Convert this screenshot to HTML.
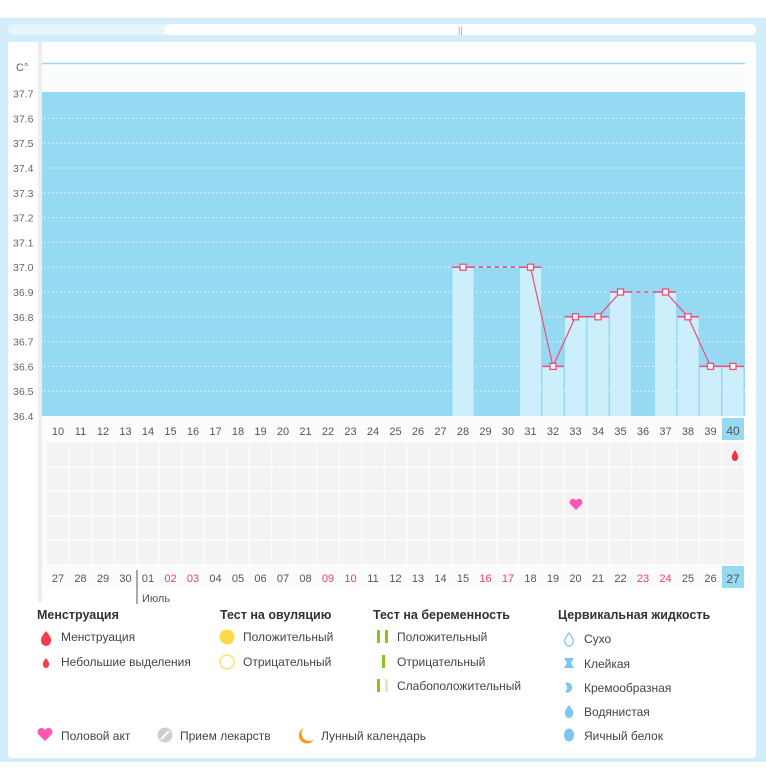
<!DOCTYPE html>
<html><head><meta charset="utf-8">
<style>
body{margin:0;width:766px;height:770px;overflow:hidden;background:#fff;font-family:"Liberation Sans","DejaVu Sans",sans-serif}
svg text{font-family:"Liberation Sans","DejaVu Sans",sans-serif}
</style></head><body>
<svg id="s" width="766" height="770" xmlns="http://www.w3.org/2000/svg">
<rect x="0" y="18" width="766" height="744" fill="#d3eefa"/>
<rect x="8" y="24" width="160" height="11" rx="5" fill="#e4f5fc"/>
<rect x="164" y="24" width="592" height="11" rx="5" fill="#fff"/>
<text x="458" y="33" font-size="9" fill="#999">||</text>
<rect x="8" y="42" width="748" height="716" rx="4" fill="#fff"/>
<g id="g"></g>
</svg>
<script>
const g=document.getElementById('g');let h='';
const cx=n=>58+(n-10)*22.5;
const ty=t=>416-(t-36.4)*248;
h+='<rect x="40" y="63" width="705" height="29" fill="#fafdfb"/>';
h+='<line x1="40" y1="63.5" x2="745" y2="63.5" stroke="#9fd8f0" stroke-width="1.5"/>';
h+='<rect x="40" y="92" width="705" height="324" fill="#95d9f2"/>';
for(let i=1;i<13;i++){let y=ty(37.7-i*0.1);h+=`<line x1="40" y1="${y}" x2="745" y2="${y}" stroke="#fff" stroke-width="1" stroke-dasharray="1.5,2.5" opacity=".8"/>`;}
const d={28:37.0,31:37.0,32:36.6,33:36.8,34:36.8,35:36.9,37:36.9,38:36.8,39:36.6,40:36.6};
for(const k in d){let x=cx(+k);let y=ty(d[k]);h+=`<rect x="${x-10.5}" y="${y}" width="21" height="${416-y}" fill="#cdeefb"/>`;h+=`<line x1="${x-11}" y1="${y}" x2="${x+11}" y2="${y}" stroke="#ee4f7a" stroke-width="1.5"/>`;}
const segs=[[28,31,1],[31,32],[32,33],[33,34],[34,35],[35,37,1],[37,38],[38,39],[39,40]];
for(const s of segs){h+=`<line x1="${cx(s[0])}" y1="${ty(d[s[0]])}" x2="${cx(s[1])}" y2="${ty(d[s[1]])}" stroke="#ee4f7a" stroke-width="${s[2]?1.6:1.2}" ${s[2]?'stroke-dasharray="4,4"':''}/>`;}
for(const k in d){let x=cx(+k),y=ty(d[k]);h+=`<rect x="${x-3}" y="${y-3}" width="6" height="6" fill="#fff" stroke="#ee4f7a" stroke-width="1.3"/>`;}
h+='<rect x="8" y="42" width="32" height="560" fill="#fff"/><rect x="38" y="42" width="4" height="560" fill="#eee"/>';
h+='<text x="16" y="71" font-size="11" fill="#666">C°</text>';
for(let i=0;i<=13;i++){let t=(37.7-i*0.1).toFixed(1);h+=`<text x="13" y="${ty(+t)+4}" font-size="10.5" fill="#666">${t}</text>`;}
h+='<rect x="42" y="416" width="703" height="172" fill="#fcfcfc"/>';
for(let n=10;n<=40;n++){let x=cx(n);for(let r=0;r<5;r++){h+=`<rect x="${x-10.5}" y="${443+r*24.5}" width="21" height="23" fill="#f3f3f3"/>`;}
h+=`<text x="${x}" y="435" font-size="11" fill="#555" text-anchor="middle">${n}</text>`;}
h+=`<rect x="${cx(40)-11}" y="418" width="22" height="22" fill="#95d9f2"/><text x="${cx(40)}" y="435" font-size="12" fill="#555" text-anchor="middle">40</text>`;
const bl=[27,28,29,30,'01','02','03','04','05','06','07','08','09','10',11,12,13,14,15,16,17,18,19,20,21,22,23,24,25,26,27];
const red=['02','03','09','10',16,17,23,24];
bl.forEach((v,i)=>{let n=10+i,x=cx(n);if(n==40){h+=`<rect x="${x-11}" y="566" width="22" height="22" fill="#95d9f2"/>`;}
h+=`<text x="${x}" y="${n==40?583:582}" font-size="${n==40?12:11}" fill="${red.includes(v)?'#ee3f6a':'#555'}" text-anchor="middle">${v}</text>`;});
h+='<line x1="137" y1="570" x2="137" y2="604" stroke="#555"/><text x="142" y="602" font-size="11" fill="#555">Июль</text>';
h+=`<path d="M576 510 l-6 -6 a3.2 3.2 0 0 1 6 -3.5 a3.2 3.2 0 0 1 6 3.5z" fill="#ff58b4"/>`;
h+=`<path d="M735 450 q-4 6 -3 8 a3 3 0 0 0 6 0 q1 -2 -3 -8z" fill="#f03040"/>`;
const T=(x,y,s,b)=>`<text x="${x}" y="${y}" font-size="${b?12.5:12}" ${b?'font-weight="bold"':''} fill="${b?'#333':'#444'}">${s}</text>`;
h+=T(37,619,'Менструация',1)+T(220,619,'Тест на овуляцию',1)+T(373,619,'Тест на беременность',1)+T(558,619,'Цервикальная жидкость',1);
h+=`<path d="M46 631 q-6 7 -5 10 a5 5 0 0 0 10 0 q1 -3 -5 -10z" fill="#f33d4a"/>`+T(61,641,'Менструация');
h+=`<path d="M46 658 q-4 5 -3 7 a3 3 0 0 0 6 0 q1 -2 -3 -7z" fill="#f33d4a"/>`+T(61,666,'Небольшие выделения');
h+=`<circle cx="227" cy="637" r="7.5" fill="#fdd94a"/>`+T(243,641,'Положительный');
h+=`<circle cx="227" cy="662" r="7" fill="#fff" stroke="#fde07a" stroke-width="1.5"/>`+T(243,666,'Отрицательный');
h+=`<rect x="377" y="630" width="3" height="13" fill="#8ac420"/><rect x="385" y="630" width="3" height="13" fill="#8ac420"/>`+T(397,641,'Положительный');
h+=`<rect x="382" y="655" width="3" height="13" fill="#8ac420"/>`+T(397,666,'Отрицательный');
h+=`<rect x="377" y="679" width="3" height="13" fill="#8ac420"/><rect x="385" y="679" width="3" height="13" fill="#dbedc0"/>`+T(397,690,'Слабоположительный');
h+=`<path d="M569 633 q-5 6 -4 9 a4 4 0 0 0 8 0 q1 -3 -4 -9z" fill="none" stroke="#7ec6f0" stroke-width="1.3"/>`+T(584,643,'Сухо');
h+=`<path d="M564 658 h10 l-3 5 l3 5 h-10 l3 -5z" fill="#7ec6f0"/>`+T(584,668,'Клейкая');
h+=`<path d="M565 683 a5 5 0 1 1 0 9 a6 6 0 0 0 0 -9z" fill="#7ec6f0"/>`+T(584,692,'Кремообразная');
h+=`<path d="M569 705 q-5 6 -4 9 a4 4 0 0 0 8 0 q1 -3 -4 -9z" fill="#7ec6f0"/>`+T(584,716,'Водянистая');
h+=`<ellipse cx="569" cy="735" rx="5" ry="6.5" fill="#7ec6f0"/>`+T(584,740,'Яичный белок');
h+=`<path d="M45 741 l-7 -7 a3.7 3.7 0 0 1 7 -4 a3.7 3.7 0 0 1 7 4z" fill="#ff58b4"/>`+T(61,740,'Половой акт');
h+=`<circle cx="165" cy="735" r="7.5" fill="#cfcfcf"/><line x1="161" y1="739" x2="169" y2="731" stroke="#fff" stroke-width="2"/>`+T(180,740,'Прием лекарств');
h+=`<path d="M304 728 a8 8 0 1 0 10 11 a7 7 0 0 1 -10 -11z" fill="#f59a1e"/>`+T(321,740,'Лунный календарь');
g.innerHTML=h;
</script>
</body></html>
